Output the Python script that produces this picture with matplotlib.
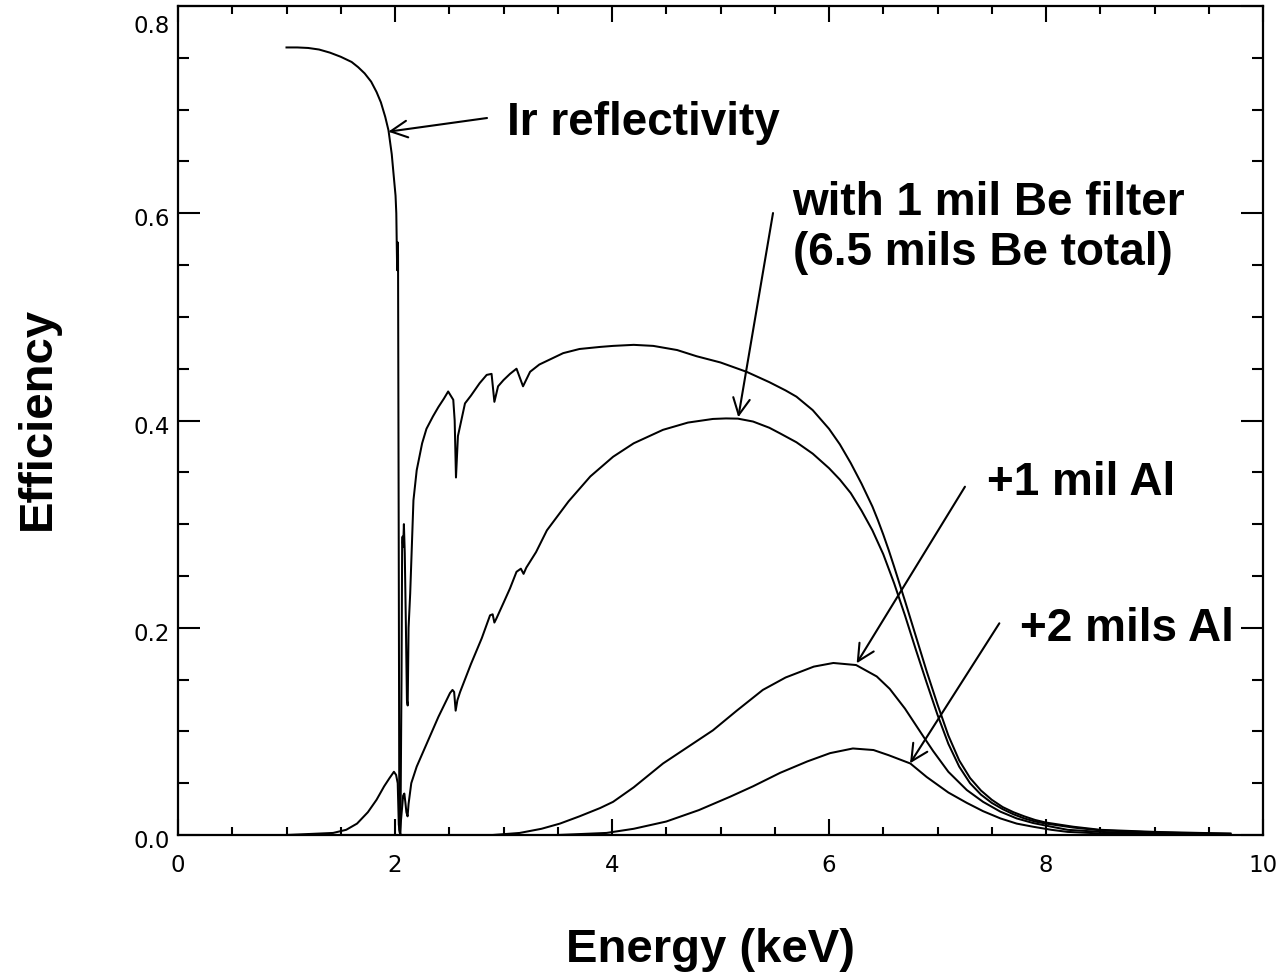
import matplotlib
matplotlib.use("Agg")
import matplotlib.pyplot as plt
from matplotlib.ticker import MultipleLocator
from matplotlib.transforms import ScaledTranslation

# Ir mirror reflectivity (keV, efficiency)
ir_energy = [1.00, 1.10, 1.20, 1.30, 1.40, 1.50, 1.60, 1.66, 1.72, 1.78, 1.83, 1.87, 1.91,
             1.94, 1.97, 1.99, 2.005, 2.012, 2.016, 2.020, 2.024, 2.028, 2.034, 2.040,
             2.050, 2.060, 2.066, 2.070, 2.075, 2.082, 2.090, 2.100, 2.110, 2.117,
             2.125, 2.140, 2.170, 2.200, 2.250, 2.290, 2.350, 2.400, 2.450, 2.490,
             2.537, 2.550, 2.562, 2.580, 2.645, 2.700, 2.780, 2.845, 2.890, 2.916,
             2.950, 3.000, 3.060, 3.120, 3.180, 3.245, 3.330, 3.430, 3.550, 3.700,
             3.890, 4.010, 4.200, 4.380, 4.600, 4.780, 5.000, 5.240, 5.450, 5.600,
             5.700, 5.850, 6.000, 6.100, 6.200, 6.300, 6.400, 6.450, 6.500, 6.550,
             6.600, 6.700, 6.800, 6.900, 7.000, 7.100, 7.200, 7.300, 7.400, 7.500,
             7.600, 7.700, 7.800, 7.900, 8.000, 8.250, 8.500, 9.000, 9.420, 9.700]
ir_eff = [0.760, 0.760, 0.7595, 0.758, 0.755, 0.751, 0.746, 0.741, 0.735, 0.727, 0.717, 0.707, 0.693,
          0.680, 0.657, 0.634, 0.617, 0.600, 0.571, 0.545, 0.572, 0.560, 0.300, 0.005,
          0.000, 0.150, 0.282, 0.288, 0.278, 0.300, 0.272, 0.205, 0.130, 0.125,
          0.200, 0.233, 0.323, 0.352, 0.378, 0.392, 0.404, 0.413, 0.421, 0.428,
          0.420, 0.400, 0.345, 0.385, 0.4165, 0.424, 0.436, 0.444, 0.445, 0.418,
          0.433, 0.439, 0.445, 0.450, 0.433, 0.447, 0.454, 0.459, 0.465, 0.469,
          0.471, 0.472, 0.473, 0.472, 0.468, 0.462, 0.456, 0.447, 0.437, 0.429,
          0.423, 0.410, 0.392, 0.377, 0.359, 0.339, 0.317, 0.304, 0.290, 0.275,
          0.259, 0.226, 0.192, 0.158, 0.126, 0.096, 0.072, 0.055, 0.043, 0.034,
          0.027, 0.022, 0.018, 0.0145, 0.012, 0.008, 0.005, 0.003, 0.002, 0.0015]

# Ir reflectivity times transmission of 6.5 mils Be
be_energy = [1.00, 1.43, 1.55, 1.65, 1.75, 1.83, 1.90, 1.95, 1.99, 2.010, 2.025, 2.035,
             2.045, 2.060, 2.075, 2.086, 2.095, 2.105, 2.116, 2.125, 2.150, 2.200,
             2.300, 2.400, 2.507, 2.530, 2.545, 2.559, 2.575, 2.600, 2.700, 2.800,
             2.876, 2.900, 2.916, 2.935, 3.000, 3.060, 3.120, 3.160, 3.185, 3.210,
             3.300, 3.400, 3.600, 3.800, 4.010, 4.200, 4.470, 4.700, 4.930, 5.050,
             5.160, 5.300, 5.450, 5.550, 5.700, 5.850, 6.000, 6.100, 6.200, 6.300,
             6.400, 6.500, 6.600, 6.700, 6.800, 6.900, 7.000, 7.100, 7.200, 7.300,
             7.400, 7.500, 7.600, 7.700, 7.800, 7.900, 8.000, 8.250, 8.500, 9.000,
             9.420, 9.700]
be_eff = [0.000, 0.002, 0.005, 0.011, 0.022, 0.034, 0.047, 0.055, 0.061, 0.058, 0.050, 0.010,
          0.002, 0.020, 0.038, 0.040, 0.032, 0.022, 0.018, 0.030, 0.050, 0.066,
          0.090, 0.114, 0.137, 0.140, 0.138, 0.120, 0.130, 0.138, 0.165, 0.190,
          0.212, 0.213, 0.205, 0.209, 0.224, 0.238, 0.254, 0.257, 0.252, 0.258,
          0.273, 0.294, 0.322, 0.346, 0.365, 0.378, 0.391, 0.398, 0.4015, 0.402,
          0.4018, 0.399, 0.393, 0.3875, 0.379, 0.368, 0.354, 0.343, 0.330, 0.313,
          0.294, 0.271, 0.243, 0.212, 0.179, 0.147, 0.116, 0.088, 0.066, 0.050,
          0.039, 0.031, 0.025, 0.020, 0.016, 0.013, 0.011, 0.0072, 0.0045, 0.0025,
          0.0015, 0.001]

# Same, with an extra 1 mil Al filter
al1_energy = [1.00, 2.90, 3.15, 3.35, 3.52, 3.70, 3.89, 4.01, 4.20, 4.47, 4.70, 4.93, 5.15,
              5.39, 5.60, 5.86, 6.04, 6.25, 6.44, 6.56, 6.70, 6.87, 6.96, 7.10, 7.27,
              7.42, 7.58, 7.73, 7.88, 8.05, 8.20, 8.50, 9.00, 9.70]
al1_eff = [0.000, 0.000, 0.002, 0.006, 0.011, 0.018, 0.026, 0.032, 0.046, 0.069, 0.085, 0.101, 0.120,
           0.140, 0.152, 0.1625, 0.166, 0.164, 0.153, 0.141, 0.122, 0.095, 0.081, 0.061, 0.0434,
           0.032, 0.0225, 0.016, 0.0116, 0.008, 0.005, 0.003, 0.0015, 0.0005]

# Same, with an extra 2 mils Al filter
al2_energy = [1.00, 3.50, 3.95, 4.20, 4.50, 4.80, 5.09, 5.30, 5.55, 5.80, 6.01, 6.22, 6.41,
              6.55, 6.75, 6.90, 7.10, 7.27, 7.42, 7.58, 7.73, 7.88, 8.05, 8.20, 8.50,
              9.00, 9.70]
al2_eff = [0.000, 0.000, 0.002, 0.006, 0.013, 0.024, 0.037, 0.047, 0.060, 0.071, 0.079, 0.0835, 0.082,
           0.077, 0.069, 0.056, 0.041, 0.031, 0.023, 0.016, 0.011, 0.008, 0.005, 0.003, 0.0015,
           0.0007, 0.0002]

x_ticks = [0, 2, 4, 6, 8, 10]
x_labels = ["0", "2", "4", "6", "8", "10"]
y_ticks = [0.0, 0.2, 0.4, 0.6, 0.8]
y_labels = ["0.0", "0.2", "0.4", "0.6", "0.8"]

bold = dict(family="Liberation Sans", weight="bold", color="black")

fig = plt.figure(figsize=(12.82, 9.76), dpi=100)
ax = fig.add_axes([178 / 1282, 1 - 835 / 976, (1263 - 178) / 1282, (835 - 6) / 976])

line_kw = dict(color="black", lw=1.45, solid_joinstyle="round")
ax.plot(ir_energy, ir_eff, **line_kw)
ax.plot(be_energy, be_eff, **line_kw)
ax.plot(al1_energy, al1_eff, **line_kw)
ax.plot(al2_energy, al2_eff, **line_kw)

ax.set_xlim(0, 10)
ax.set_ylim(0, 0.8)
ax.set_xticks(x_ticks, labels=x_labels)
ax.set_yticks(y_ticks, labels=y_labels)
ax.xaxis.set_minor_locator(MultipleLocator(0.5))
ax.yaxis.set_minor_locator(MultipleLocator(0.05))

for sp in ax.spines.values():
    sp.set_linewidth(1.6)

tick_font = 16.5
ax.tick_params(axis="x", which="major", direction="in", length=11.5, width=1.5,
               top=True, pad=14, labelsize=tick_font)
ax.tick_params(axis="x", which="minor", direction="in", length=5.8, width=1.5, top=True)
ax.tick_params(axis="y", which="major", direction="in", length=15.6, width=1.5,
               right=True, pad=6, labelsize=tick_font)
ax.tick_params(axis="y", which="minor", direction="in", length=7.9, width=1.5, right=True)

# nudge the y tick labels slightly down; keep the top one inside the frame
for tick, val in zip(ax.yaxis.get_major_ticks(), y_ticks):
    dy = -18 if val == y_ticks[-1] else -4
    lab = tick.label1
    lab.set_transform(lab.get_transform() + ScaledTranslation(0, dy / 100, fig.dpi_scale_trans))

# curve annotations
arrow_kw = dict(arrowstyle="->", lw=1.5, color="black", shrinkA=0, shrinkB=0,
                mutation_scale=30)
ax.annotate("", xy=(1.938, 0.6787), xytext=(2.848, 0.6919), arrowprops=arrow_kw)
ax.annotate("", xy=(5.164, 0.4031), xytext=(5.484, 0.6002), arrowprops=arrow_kw)
ax.annotate("", xy=(6.255, 0.1657), xytext=(7.253, 0.3361), arrowprops=arrow_kw)
ax.annotate("", xy=(6.747, 0.0692), xytext=(7.570, 0.2043), arrowprops=arrow_kw)

ax.text(3.03, 0.6755, "Ir reflectivity", fontsize=33, ha="left", va="baseline", **bold)
ax.text(5.656, 0.5983, "with 1 mil Be filter", fontsize=33, ha="left", va="baseline", **bold)
ax.text(5.668, 0.550, "(6.5 mils Be total)", fontsize=33, ha="left", va="baseline", **bold)
ax.text(7.453, 0.3281, "+1 mil Al", fontsize=33, ha="left", va="baseline", **bold)
ax.text(7.760, 0.1875, "+2 mils Al", fontsize=33, ha="left", va="baseline", **bold)

fig.text(710 / 1282, 1 - 962 / 976, "Energy (keV)", fontsize=34, ha="center",
         va="baseline", **bold)
fig.text(50 / 1282, 1 - 419 / 976, "Efficiency", fontsize=34, rotation=90,
         rotation_mode="anchor", ha="center", va="baseline", **bold)

fig.savefig("out.png", dpi=100)
